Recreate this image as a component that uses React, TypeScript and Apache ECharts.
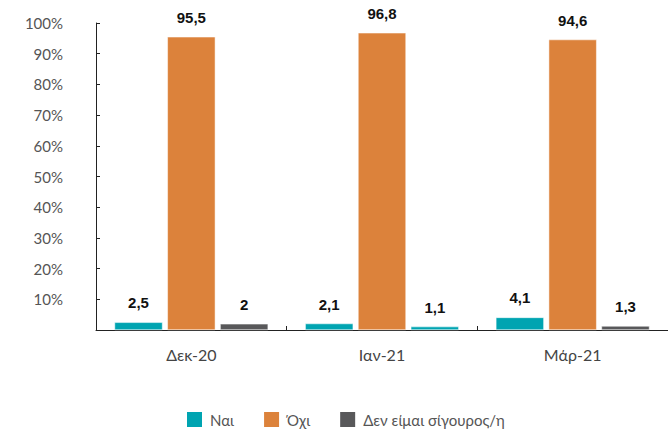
import React, { useEffect, useRef } from "react";
import * as echarts from "echarts";

const categories = ["Δεκ-20", "Ιαν-21", "Μάρ-21"];
const seriesNames = ["Ναι", "Όχι", "Δεν είμαι σίγουρος/η"];
const yesValues = [2.5, 2.1, 4.1];
const noValues = [95.5, 96.8, 94.6];
const unsureValues = [2, 1.1, 1.3];
const colors = ["#00a4b1", "#dc823b", "#58585a"];

export default function App() {
  const ref = useRef<HTMLDivElement>(null);
  useEffect(() => {
    if (!ref.current) return;
    const chart = echarts.init(ref.current, null, { renderer: "svg" });
    const fmt = (v: number) => String(v).replace(".", ",");
    const label = {
      show: true,
      position: "top",
      distance: 12,
      fontSize: 15,
      fontWeight: "bold",
      color: "#111",
      fontFamily: "Liberation Sans, Arial, sans-serif",
      formatter: (p: any) => fmt(p.value),
    };
    const mk = (name: string, data: any[], color: string) => ({
      name,
      type: "bar",
      data,
      barWidth: 48,
      barGap: "10%",
      itemStyle: { color, borderColor: "#fff", borderWidth: 0.5 },
      label,
    });
    chart.setOption({
      animation: false,
      color: colors,
      grid: { left: 96, width: 580, top: 23, height: 307 },
      legend: {
        left: 180,
        top: 405,
        itemWidth: 17,
        itemHeight: 17,
        itemGap: 28,
        icon: "rect",
        textStyle: { fontSize: 15, color: "#555", fontFamily: "Lato, sans-serif", padding: [0, 0, 0, 2] },
        data: seriesNames,
      },
      xAxis: {
        type: "category",
        data: categories,
        axisLine: { lineStyle: { color: "#222", width: 1 } },
        axisTick: { show: true, inside: true, length: 4, lineStyle: { color: "#222" } },
        axisLabel: { fontSize: 16, color: "#444", margin: 16, fontFamily: "Lato, sans-serif" },
      },
      yAxis: {
        type: "value",
        min: 0,
        max: 100,
        interval: 10,
        axisLine: { show: true, lineStyle: { color: "#222", width: 1 } },
        axisTick: { show: true, inside: true, length: 4, lineStyle: { color: "#222" } },
        splitLine: { show: false },
        axisLabel: {
          fontSize: 15,
          color: "#555",
          margin: 33,
          fontFamily: "Lato, sans-serif",
          formatter: (v: number) => (v === 0 ? "" : v + "%"),
        },
      },
      series: [
        mk(seriesNames[0], yesValues, colors[0]),
        mk(seriesNames[1], noValues, colors[1]),
        mk(
          seriesNames[2],
          unsureValues.map((v, i) => (i === 1 ? { value: v, itemStyle: { color: colors[0] } } : v)),
          colors[2]
        ),
      ],
    });
    return () => chart.dispose();
  }, []);
  return (
    <div
      ref={ref}
      style={{ position: "absolute", left: 0, top: 0, width: 668, height: 430 }}
    />
  );
}
